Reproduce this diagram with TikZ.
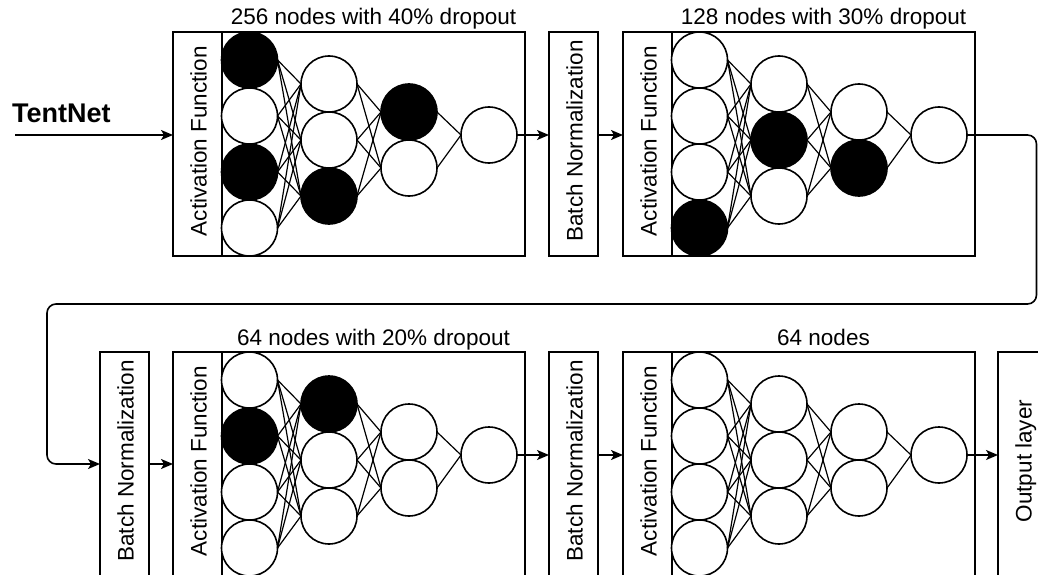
\documentclass[tikz,border=0pt]{standalone}
\usepackage{fontspec}
\setmainfont{Liberation Sans}
\usetikzlibrary{arrows.meta,calc}
\tikzset{
  netbox/.style={draw, line width=1.6pt, minimum width=352pt, minimum height=224pt, inner sep=0pt, outer sep=0pt},
  sidebox/.style={draw, line width=1.6pt, minimum width=49pt, minimum height=224pt, inner sep=0pt, outer sep=0pt},
  neuron/.style={circle, draw, line width=1.6pt, minimum size=56pt, inner sep=0pt, outer sep=0pt},
  conn/.style={line width=1.2pt},
  flow/.style={line width=1.6pt, -{Stealth[length=12pt,width=10pt,inset=3pt]}},
  lbl/.style={font=\fontsize{22.5}{27}\selectfont, inner sep=0pt},
  vlbl/.style={lbl, rotate=90, anchor=base},
}
% #1 prefix, #2 left, #3 top, #4 layer1 fills, #5 layer2 fills, #6 layer3 fills, #7 title
\newcommand{\netblock}[7]{%
  \node[netbox, anchor=north west] (#1box) at (#2,#3) {};
  \node[sidebox, anchor=north west] (#1act) at (#2,#3) {};
  \node[vlbl] (#1actt) at ({#2+33.5},{#3+109}) {Activation Function};
  \node[lbl, anchor=base] (#1title) at ({#2+200.5},{#3-7}) {#7};
  \foreach \f [count=\i] in {#4} {\node[neuron, fill=\f] (#1a\i) at ({#2+76.5},{#3+28+56*(\i-1)}) {};}
  \foreach \f [count=\i] in {#5} {\node[neuron, fill=\f] (#1b\i) at ({#2+156},{#3+52+56*(\i-1)}) {};}
  \foreach \f [count=\i] in {#6} {\node[neuron, fill=\f] (#1c\i) at ({#2+236},{#3+80+56*(\i-1)}) {};}
  \node[neuron, fill=white] (#1d) at ({#2+316},{#3+103}) {};
  \foreach \i in {1,...,4} {\foreach \j in {1,2,3} {\draw[conn] (#1a\i.east) -- (#1b\j.west);}}
  \foreach \i in {1,2,3} {\foreach \j in {1,2} {\draw[conn] (#1b\i.east) -- (#1c\j.west);}}
  \foreach \i in {1,2} {\draw[conn] (#1c\i.east) -- (#1d.west);}
}
\begin{document}
\begin{tikzpicture}[x=1pt,y=-1pt]
\path[use as bounding box] (0,0) rectangle (1038,575);
\clip (0,0) rectangle (1038,575);

% row 1
\netblock{A}{173}{32}{black,white,black,white}{white,white,black}{black,white}{256 nodes with 40\% dropout}
\node[sidebox, anchor=north west] (bn2) at (549,32) {};
\node[vlbl] (bn2t) at ({549+33.5},{32+109}) {Batch Normalization};
\netblock{B}{623}{32}{white,white,white,black}{white,black,white}{white,black}{128 nodes with 30\% dropout}

% row 2
\node[sidebox, anchor=north west] (bn3) at (100,352) {};
\node[vlbl] (bn3t) at ({100+33.5},{352+109}) {Batch Normalization};
\netblock{C}{173}{352}{white,black,white,white}{black,white,white}{white,white}{64 nodes with 20\% dropout}
\node[sidebox, anchor=north west] (bn4) at (549,352) {};
\node[vlbl] (bn4t) at ({549+33.5},{352+109}) {Batch Normalization};
\netblock{D}{623}{352}{white,white,white,white}{white,white,white}{white,white}{64 nodes}
\node[sidebox, anchor=north west] (out) at (998,352) {};
\node[vlbl] (outt) at ({998+33.5},{352+109}) {Output layer};

% input
\node[font=\fontsize{27}{32}\selectfont\bfseries, inner sep=0pt, anchor=base west] (tent) at (12,122) {TentNet};
\coordinate (inS) at (15,135);
\draw[flow] (inS) -- (inS -| Abox.west);

% row 1 flow
\draw[flow] (Ad.east) -- (Ad.east -| bn2.west);
\draw[flow] (Ad.east -| bn2.east) -- (Ad.east -| Bbox.west);

% loop
\coordinate (loopA) at (1036.5,304);
\coordinate (loopB) at (47,464);
\draw[flow, rounded corners=9pt] (Bd.east) -| (loopA) -| (loopB) -- (bn3.west);

% row 2 flow
\draw[flow] (bn3.east) -- (Cbox.west);
\draw[flow] (Cd.east) -- (Cd.east -| bn4.west);
\draw[flow] (Cd.east -| bn4.east) -- (Cd.east -| Dbox.west);
\draw[flow] (Dd.east) -- (Dd.east -| out.west);
\end{tikzpicture}
\end{document}
